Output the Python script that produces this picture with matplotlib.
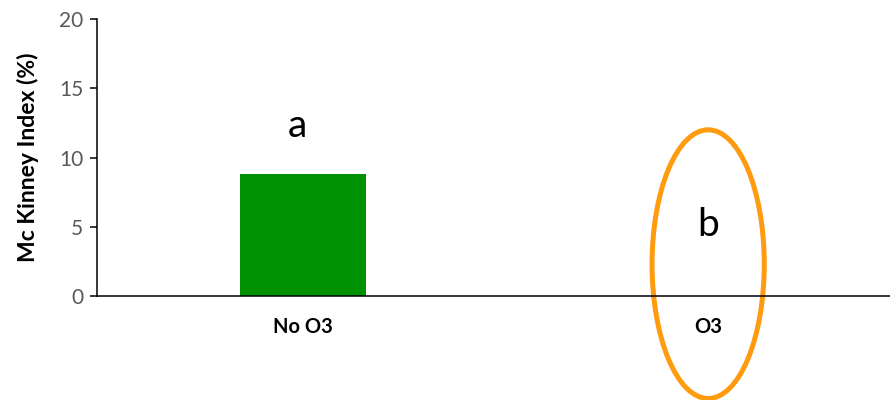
import matplotlib.pyplot as plt
from matplotlib.patches import Ellipse

groups = ["No O3", "O3"]
mckinney = [8.8, 0.0]
letters = ["a", "b"]
letter_y = [11.5, 4.3]

plt.rcParams['font.family'] = ['Lato', 'DejaVu Sans']

fig = plt.figure(figsize=(8.9, 4.0), dpi=100)
ax = fig.add_axes([0.109, 0.26, 0.891, 0.6925])

x = list(range(len(groups)))
ax.bar(x, mckinney, width=0.31, color='#009100')

for xi, lt, ly in zip(x, letters, letter_y):
    ax.text(xi - 0.015 if xi == 0 else xi, ly, lt, ha='center', va='baseline',
            fontsize=28, color='black')

# highlight ring around the O3 group
ring = Ellipse((1, 2.3), 0.277, 19.4, fill=False, edgecolor='#FF9B0F',
               linewidth=3.6, clip_on=False)
ax.add_patch(ring)

ax.set_xlim(-0.509, 1.449)
ax.set_ylim(0, 20)
ax.set_yticks([0, 5, 10, 15, 20])
ax.set_xticks(x)
ax.set_xticklabels(groups, fontsize=14.5, fontweight='bold')
ax.tick_params(axis='x', length=0, pad=15)
ax.tick_params(axis='y', length=5, width=1.1, colors='black',
               labelcolor='#595959', labelsize=15, pad=5)

ax.set_ylabel("Mc Kinney Index (%)", fontsize=16.5, fontweight='bold')
ax.yaxis.set_label_coords(-0.073, 0.5)

for side in ['top', 'right']:
    ax.spines[side].set_visible(False)
for side in ['left', 'bottom']:
    ax.spines[side].set_linewidth(1.1)
    ax.spines[side].set_color('black')

fig.savefig("out.png", dpi=100)
